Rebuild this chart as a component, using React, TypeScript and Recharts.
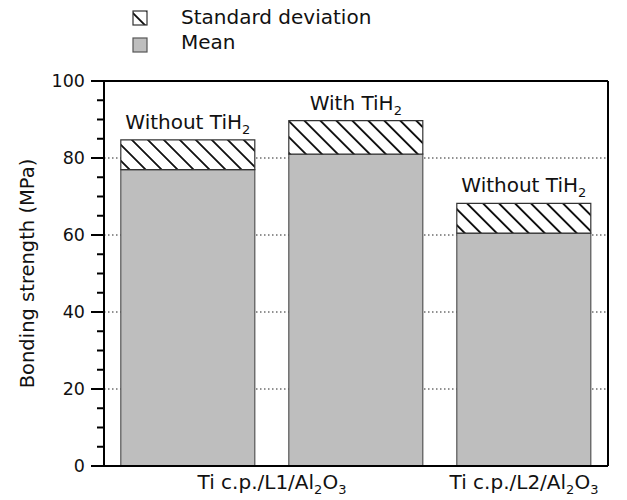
import { BarChart, Bar, XAxis, YAxis, CartesianGrid, LabelList, ReferenceLine } from 'recharts';

// bars, left to right
const categories = ['L1 without', 'L1 with', 'L2 without'];
const meanValues = [77, 81, 60.5];
const sdValues = [7.7, 8.7, 7.7];

// label text: [text, isSubscript]
const barLabels: [string, boolean][][] = [
  [['Without TiH', false], ['2', true]],
  [['With TiH', false], ['2', true]],
  [['Without TiH', false], ['2', true]],
];

// x labels span a range of bars
const groupLabels: { from: number; to: number; parts: [string, boolean][] }[] = [
  { from: 0, to: 1, parts: [['Ti c.p./L1/Al', false], ['2', true], ['O', false], ['3', true]] },
  { from: 2, to: 2, parts: [['Ti c.p./L2/Al', false], ['2', true], ['O', false], ['3', true]] },
];

const yTicks = [0, 5, 10, 15, 20, 25, 30, 35, 40, 45, 50, 55, 60, 65, 70, 75, 80, 85, 90, 95, 100];
const yLabelTicks = [0, 20, 40, 60, 80, 100];
const gridValues = [20, 40, 60, 80];
const yMax = 100;

const legendItems = [
  { label: 'Standard deviation', fill: 'url(#hatch)', stroke: '#333' },
  { label: 'Mean', fill: '#bebebe', stroke: '#555' },
];

const data = categories.map((name, i) => ({ name, mean: meanValues[i], sd: sdValues[i] }));

const FONT = 'DejaVu Sans';

const renderParts = (parts: [string, boolean][]) => {
  let shifted = false;
  return parts.map(([t, sub], i) => {
    const dy = sub && !shifted ? 5 : !sub && shifted ? -5 : 0;
    shifted = sub;
    return (
      <tspan key={i} dy={dy} fontSize={sub ? 13 : undefined}>
        {t}
      </tspan>
    );
  });
};

const LeftTick = (props: any) => {
  const { x, y, payload } = props;
  const major = yLabelTicks.includes(payload.value);
  return (
    <g>
      <line x1={x} x2={x - (major ? 13 : 7)} y1={y} y2={y} stroke="#000" strokeWidth={2} />
      {major && (
        <text x={x - 19} y={y} dy="0.36em" textAnchor="end" fontSize={17.5} fontFamily={FONT} fill="#111">
          {payload.value}
        </text>
      )}
    </g>
  );
};

const RightTick = (props: any) => {
  const { x, y, payload } = props;
  const major = yLabelTicks.includes(payload.value);
  return <line x1={x} x2={x + (major ? 12 : 7)} y1={y} y2={y} stroke="#000" strokeWidth={2} />;
};

const BottomTick = (props: any) => {
  const { x, y, index, width } = props;
  const group = groupLabels.find((g) => g.from === index);
  if (!group) return <g />;
  const band = (width || 504) / categories.length;
  const cx = x + ((group.to - group.from) * band) / 2;
  return (
    <text x={cx} y={y + 23} textAnchor="middle" fontSize={20} fontFamily={FONT} fill="#111">
      {renderParts(group.parts)}
    </text>
  );
};

const renderBarLabel = (props: any) => {
  const { x, y, width, index } = props;
  const parts = barLabels[index];
  if (!parts) return null;
  return (
    <text x={x + width / 2} y={y - 11} textAnchor="middle" fontSize={20} fontFamily={FONT} fill="#111">
      {renderParts(parts)}
    </text>
  );
};

const YLabel = ({ viewBox }: any) => {
  const cx = 27;
  const cy = viewBox ? viewBox.y + viewBox.height / 2 : 273;
  return (
    <text
      x={cx}
      y={cy}
      transform={`rotate(-90, ${cx}, ${cy})`}
      textAnchor="middle"
      dominantBaseline="central"
      fontSize={19.5}
      fontFamily={FONT}
      fill="#111"
    >
      Bonding strength (MPa)
    </text>
  );
};

const App = () => {
  return (
    <div style={{ position: 'absolute', left: 0, top: 0, width: 627, height: 500, background: '#fff', fontFamily: FONT }}>
      <BarChart
        width={627}
        height={500}
        data={data}
        margin={{ top: 81, right: 0, bottom: 0, left: 0 }}
        barCategoryGap="10%"
      >
        <defs>
          <pattern id="hatch" patternUnits="userSpaceOnUse" width="11.3" height="11.3" patternTransform="rotate(-45)">
            <rect width="11.3" height="11.3" fill="#fff" />
            <line x1="5.65" y1="0" x2="5.65" y2="11.3" stroke="#111" strokeWidth="1.9" />
          </pattern>
        </defs>
        <CartesianGrid
          vertical={false}
          horizontalValues={gridValues}
          stroke="#222"
          strokeDasharray="1.5 2.5"
        />
        <XAxis
          dataKey="name"
          height={34}
          tickLine={false}
          tickSize={0}
          tickMargin={0}
          interval={0}
          axisLine={{ stroke: '#000', strokeWidth: 2 }}
          tick={<BottomTick />}
        />
        <YAxis
          width={104}
          domain={[0, yMax]}
          ticks={yTicks}
          interval={0}
          tickLine={false}
          tickSize={0}
          tickMargin={0}
          axisLine={{ stroke: '#000', strokeWidth: 2 }}
          tick={<LeftTick />}
          label={<YLabel />}
        />
        <YAxis
          yAxisId="right"
          orientation="right"
          width={19}
          domain={[0, yMax]}
          ticks={yTicks}
          interval={0}
          tickLine={false}
          tickSize={0}
          tickMargin={0}
          axisLine={{ stroke: '#000', strokeWidth: 2 }}
          tick={<RightTick />}
        />
        <Bar dataKey="mean" name="Mean" stackId="s" fill="#bebebe" stroke="#555" strokeWidth={1.2} isAnimationActive={false} />
        <Bar dataKey="sd" name="Standard deviation" stackId="s" fill="url(#hatch)" stroke="#333" strokeWidth={1.2} isAnimationActive={false}>
          <LabelList dataKey="sd" content={renderBarLabel} />
        </Bar>
        <ReferenceLine y={yMax} stroke="#000" strokeWidth={2} />
      </BarChart>
      <svg width={627} height={60} style={{ position: 'absolute', left: 0, top: 0, pointerEvents: 'none' }}>
        {legendItems.map((item, i) => (
          <g key={item.label}>
            <rect x={133} y={11 + i * 27} width={14} height={14} fill={item.fill} stroke={item.stroke} strokeWidth={1.2} />
            <text x={181} y={24 + i * 25} fontSize={20} fontFamily={FONT} fill="#111">
              {item.label}
            </text>
          </g>
        ))}
      </svg>
    </div>
  );
};

export default App;
